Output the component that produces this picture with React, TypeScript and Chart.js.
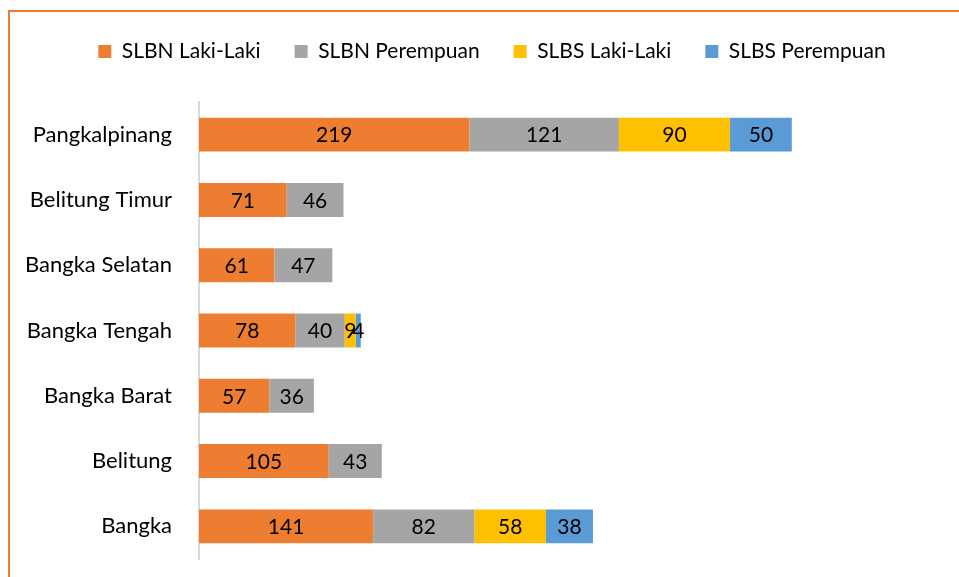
import React, { useEffect, useRef } from "react";
import { Chart, registerables } from "chart.js";

Chart.register(...registerables);

const categories = [
  "Pangkalpinang",
  "Belitung Timur",
  "Bangka Selatan",
  "Bangka Tengah",
  "Bangka Barat",
  "Belitung",
  "Bangka",
];
const slbnLaki = [219, 71, 61, 78, 57, 105, 141];
const slbnPerempuan = [121, 46, 47, 40, 36, 43, 82];
const slbsLaki = [90, 0, 0, 9, 0, 0, 58];
const slbsPerempuan = [50, 0, 0, 4, 0, 0, 38];

const FONT = "Lato, 'Noto Sans', sans-serif";

const labelPlugin = {
  id: "barLabels",
  afterDatasetsDraw(chart: any) {
    const ctx = chart.ctx;
    ctx.save();
    ctx.font = `21px ${FONT}`;
    ctx.fillStyle = "#000";
    ctx.textAlign = "center";
    ctx.textBaseline = "middle";
    chart.data.datasets.forEach((ds: any, i: number) => {
      const meta = chart.getDatasetMeta(i);
      meta.data.forEach((el: any, j: number) => {
        const v = ds.data[j];
        if (!v) return;
        const cx = (el.x + el.base) / 2;
        ctx.fillText(String(v), cx, el.y + 1);
      });
    });
    ctx.restore();
  },
};

const LEGEND_SHIFT = 22;

const legendGapPlugin = {
  id: "legendGap",
  afterInit(chart: any) {
    const lg = chart.legend;
    if (!lg || lg.__patched) return;
    const origFit = lg.fit.bind(lg);
    lg.fit = function () {
      origFit();
      this.height += 30;
    };
    const origDraw = lg.draw.bind(lg);
    lg.draw = function () {
      const ctx = chart.ctx;
      ctx.save();
      ctx.translate(LEGEND_SHIFT, 0);
      origDraw();
      ctx.restore();
    };
    lg.__patched = true;
  },
};

export default function App() {
  const ref = useRef<HTMLCanvasElement>(null);
  useEffect(() => {
    if (!ref.current) return;
    const chart = new Chart(ref.current, {
      type: "bar",
      data: {
        labels: categories,
        datasets: [
          { label: "SLBN Laki-Laki", data: slbnLaki, backgroundColor: "#ED7D31" },
          { label: "SLBN Perempuan", data: slbnPerempuan, backgroundColor: "#A5A5A5" },
          { label: "SLBS Laki-Laki", data: slbsLaki, backgroundColor: "#FFC000" },
          { label: "SLBS Perempuan", data: slbsPerempuan, backgroundColor: "#5B9BD5" },
        ],
      },
      options: {
        indexAxis: "y",
        responsive: false,
        animation: false,
        maintainAspectRatio: false,
        datasets: {
          bar: { categoryPercentage: 1, barPercentage: 0.52 },
        },
        layout: { padding: { left: 0, right: 19, top: 7, bottom: 18 } },
        plugins: {
          legend: {
            position: "top",
            labels: {
              boxWidth: 13,
              boxHeight: 13,
              padding: 34,
              color: "#000",
              font: { family: FONT, size: 21 },
            },
          },
          tooltip: { enabled: false },
        },
        scales: {
          x: {
            stacked: true,
            min: 0,
            max: 600,
            display: false,
          },
          y: {
            stacked: true,
            grid: { display: false, drawTicks: false },
            border: { display: true, color: "#D9D9D9", width: 2 },
            ticks: {
              color: "#000",
              padding: 27,
              font: { family: FONT, size: 22 },
            },
            afterFit: (scale: any) => {
              scale.width = 199;
              scale.paddingTop = 0;
              scale.paddingBottom = 0;
            },
          },
        },
      },
      plugins: [labelPlugin, legendGapPlugin],
    });
    return () => chart.destroy();
  }, []);
  return (
    <div>
      <div
        style={{
          position: "fixed",
          left: 8,
          top: 10,
          width: 1000,
          height: 1000,
          borderTop: "2.5px solid #ED7D31",
          borderLeft: "2.5px solid #ED7D31",
          boxSizing: "border-box",
        }}
      />
      <canvas
        ref={ref}
        width={959}
        height={577}
        style={{ position: "fixed", left: 0, top: 0, width: 959, height: 577 }}
      />
    </div>
  );
}
